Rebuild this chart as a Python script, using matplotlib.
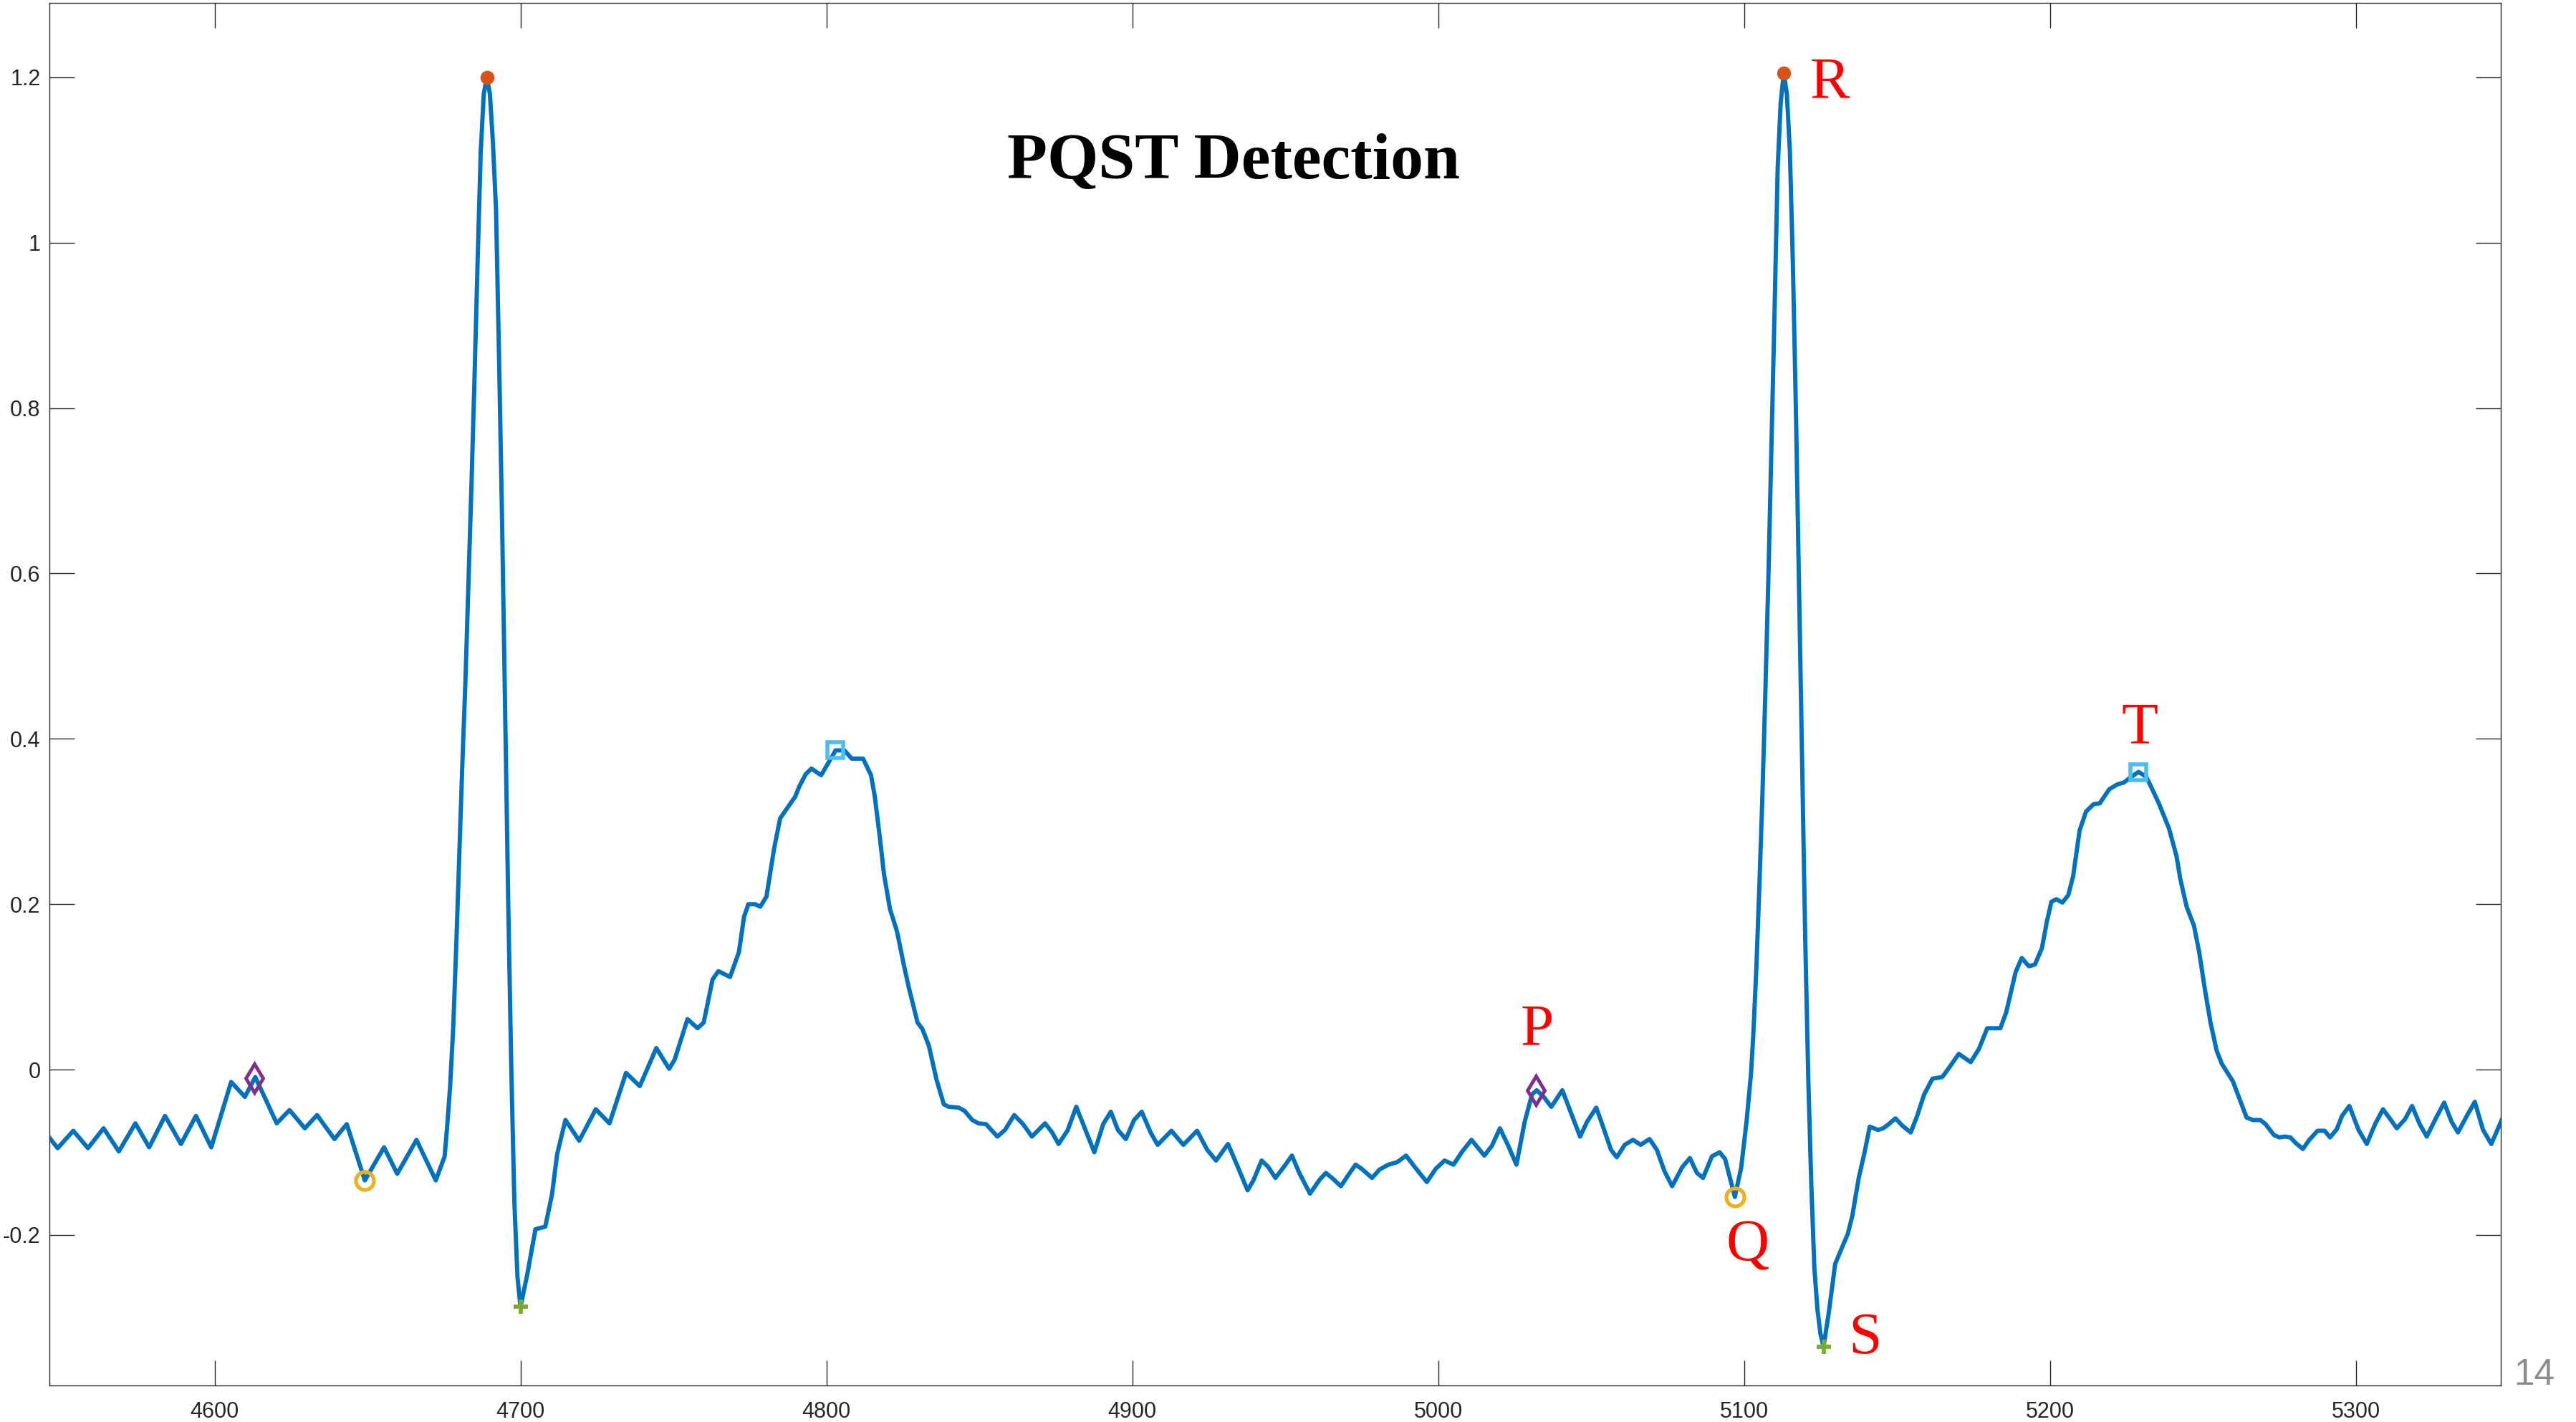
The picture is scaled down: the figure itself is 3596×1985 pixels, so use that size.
import matplotlib

matplotlib.use("Agg")
import matplotlib.pyplot as plt

# ECG trace (sample index, amplitude)
t = [
    4545.7, 4548.7, 4553.8, 4558.6, 4563.7, 4568.7, 4574.1, 4578.6, 4583.8, 4589.0,
    4593.9, 4598.9, 4605.4, 4609.9, 4613.3, 4620.3, 4624.5, 4629.5, 4633.5, 4636.8,
    4639.2, 4643.2, 4649.1, 4655.4, 4659.7, 4666.0, 4672.3, 4675.2,
    4676, 4677, 4678, 4679, 4680, 4681, 4682, 4683, 4684, 4685, 4686, 4687, 4688,
    4689, 4690, 4691, 4692, 4693, 4694, 4695, 4696, 4697, 4698, 4699, 4700,
    4702.2, 4704.9, 4708.1, 4710.3, 4712.0, 4714.7, 4719.2, 4724.6, 4729.1, 4734.5,
    4739.0, 4744.4, 4748.6, 4750.4, 4754.6, 4757.9, 4759.9, 4762.8, 4764.7, 4768.5,
    4771.4, 4773.1, 4774.5, 4776.7, 4778.4, 4780.4, 4782.9, 4784.9, 4789.8, 4791.1,
    4793.2, 4795.1, 4798.3, 4803.0, 4805.9, 4808.3, 4812.0, 4814.6, 4815.8, 4817.5,
    4818.8, 4820.8, 4823.1, 4825.3, 4826.9, 4829.8, 4831.4, 4833.5, 4836.0, 4838.4,
    4840.0, 4843.3, 4845.2, 4847.7, 4849.7, 4852.2, 4855.9, 4858.4, 4861.4, 4864.3,
    4867.2, 4871.5, 4873.8, 4875.9, 4878.8, 4881.7, 4884.7, 4887.6, 4890.5, 4893.0,
    4895.3, 4897.9, 4900.6, 4903.1, 4906.0, 4908.3, 4912.8, 4916.7, 4921.2, 4924.5,
    4927.4, 4931.3, 4934.2, 4937.7, 4939.6, 4942.3, 4944.5, 4946.8, 4949.5, 4952.2,
    4954.6, 4958.1, 4961.3, 4963.3, 4965.3, 4968.2, 4971.1, 4973.0, 4975.0, 4978.4,
    4980.8, 4983.7, 4986.6, 4989.5, 4992.4, 4996.3, 4999.2, 5002.1, 5005.0, 5007.9,
    5010.9, 5015.1, 5017.6, 5020.2, 5022.9, 5025.6, 5028.3, 5030.7, 5032.2, 5034.5,
    5037.0, 5040.6, 5043.5, 5046.4, 5048.7, 5051.7, 5054.0, 5056.5, 5058.4, 5061.0,
    5063.7, 5066.2, 5069.1, 5071.5, 5074.0, 5076.5, 5079.8, 5082.3, 5084.6, 5086.6,
    5089.5, 5092.0, 5093.8, 5095.4, 5097.0, 5099.1, 5100.9, 5102.3,
    5103, 5104, 5105, 5106, 5107, 5108, 5109, 5110, 5111, 5112, 5113, 5114, 5115,
    5116, 5117, 5118, 5119, 5120, 5121, 5122, 5123, 5124, 5125, 5126,
    5127.7, 5129.8, 5131.6, 5133.9, 5135.4, 5137.5, 5139.3, 5141.1, 5143.8, 5145.5,
    5147.3, 5149.5, 5151.8, 5154.5, 5156.6, 5158.9, 5161.6, 5164.8, 5167.0, 5170.2,
    5174.1, 5176.8, 5179.5, 5183.8, 5185.7, 5188.8, 5190.8, 5193.1, 5195.1, 5197.4,
    5199.0, 5200.5, 5202.1, 5204.1, 5206.0, 5207.6, 5209.7, 5211.8, 5214.3, 5216.3,
    5219.4, 5222.1, 5224.1, 5226.6, 5229.0, 5231.5, 5233.6, 5235.6, 5238.9, 5241.4,
    5242.6, 5244.7, 5247.1, 5248.8, 5250.8, 5252.5, 5254.5, 5256.2, 5259.8, 5264.3,
    5266.4, 5268.8, 5270.5, 5273.2, 5275.0, 5276.8, 5278.6, 5280.4, 5282.7, 5284.8,
    5287.5, 5289.8, 5291.6, 5293.8, 5295.5, 5297.9, 5300.9, 5303.6, 5306.3, 5308.9,
    5311.3, 5313.4, 5316.1, 5318.4, 5320.9, 5323.2, 5326.3, 5328.9, 5331.3, 5333.4,
    5336.3, 5338.9, 5341.6, 5344.3, 5346.4, 5347.7,
]
ecg = [
    -0.081, -0.095, -0.074, -0.095, -0.071, -0.099, -0.065, -0.094, -0.056, -0.090,
    -0.056, -0.094, -0.015, -0.033, -0.009, -0.065, -0.049, -0.071, -0.055, -0.072,
    -0.084, -0.066, -0.134, -0.094, -0.126, -0.085, -0.134, -0.105,
    -0.07, -0.02, 0.05, 0.15, 0.26, 0.37, 0.47, 0.59, 0.71, 0.84, 0.98, 1.11, 1.18,
    1.20, 1.18, 1.12, 1.04, 0.86, 0.66, 0.43, 0.20, 0.0, -0.16, -0.25, -0.287,
    -0.248, -0.193, -0.190, -0.151, -0.102, -0.061, -0.086, -0.048, -0.065, -0.004,
    -0.020, 0.026, 0.001, 0.012, 0.061, 0.050, 0.057, 0.109, 0.119, 0.112,
    0.142, 0.185, 0.200, 0.200, 0.197, 0.209, 0.267, 0.304, 0.330, 0.342,
    0.357, 0.364, 0.356, 0.386, 0.386, 0.376, 0.376, 0.356, 0.331, 0.280,
    0.237, 0.194, 0.167, 0.127, 0.100, 0.057, 0.049, 0.029, -0.012, -0.042,
    -0.045, -0.046, -0.050, -0.061, -0.065, -0.066, -0.081, -0.073, -0.055, -0.066,
    -0.081, -0.065, -0.076, -0.090, -0.074, -0.045, -0.073, -0.100, -0.066, -0.051,
    -0.073, -0.084, -0.061, -0.051, -0.076, -0.091, -0.074, -0.091, -0.074, -0.097,
    -0.110, -0.090, -0.115, -0.146, -0.134, -0.110, -0.118, -0.131, -0.118, -0.104,
    -0.125, -0.150, -0.133, -0.125, -0.131, -0.141, -0.125, -0.115, -0.120, -0.131,
    -0.121, -0.115, -0.112, -0.104, -0.118, -0.136, -0.120, -0.110, -0.115, -0.099,
    -0.085, -0.104, -0.092, -0.071, -0.092, -0.115, -0.063, -0.030, -0.025, -0.033,
    -0.045, -0.025, -0.053, -0.081, -0.063, -0.046, -0.070, -0.097, -0.106, -0.091,
    -0.085, -0.091, -0.084, -0.097, -0.123, -0.141, -0.118, -0.107, -0.125, -0.131,
    -0.105, -0.100, -0.108, -0.131, -0.154, -0.118, -0.060, -0.004,
    0.04, 0.12, 0.22, 0.33, 0.46, 0.60, 0.76, 0.92, 1.09, 1.17, 1.205, 1.18, 1.11,
    0.97, 0.79, 0.58, 0.37, 0.16, -0.01, -0.14, -0.24, -0.29, -0.32, -0.335,
    -0.294, -0.235, -0.219, -0.199, -0.177, -0.131, -0.102, -0.069, -0.073, -0.071,
    -0.066, -0.059, -0.068, -0.076, -0.056, -0.030, -0.011, -0.009, 0.002, 0.019,
    0.009, 0.025, 0.050, 0.050, 0.069, 0.118, 0.135, 0.125, 0.127, 0.147,
    0.179, 0.203, 0.206, 0.202, 0.211, 0.234, 0.289, 0.312, 0.321, 0.322,
    0.339, 0.345, 0.347, 0.354, 0.360, 0.354, 0.338, 0.322, 0.292, 0.258,
    0.231, 0.197, 0.174, 0.142, 0.094, 0.057, 0.023, 0.007, -0.014, -0.058,
    -0.061, -0.061, -0.066, -0.079, -0.082, -0.081, -0.082, -0.089, -0.096, -0.085,
    -0.074, -0.074, -0.082, -0.072, -0.056, -0.044, -0.073, -0.090, -0.066, -0.048,
    -0.060, -0.071, -0.060, -0.044, -0.066, -0.081, -0.058, -0.040, -0.063, -0.076,
    -0.056, -0.039, -0.073, -0.090, -0.072, -0.061,
]

# detected points
p_x, p_y = [4613, 5032], [-0.010, -0.025]
q_x, q_y = [4649, 5097], [-0.134, -0.154]
r_x, r_y = [4689, 5113], [1.200, 1.205]
s_x, s_y = [4700, 5126], [-0.287, -0.335]
t_x, t_y = [4803, 5229], [0.386, 0.360]

# red letters next to the second beat (centre x, baseline y)
wave_labels = ["P", "Q", "R", "S", "T"]
label_x = [5032.3, 5101.2, 5128.1, 5139.5, 5229.3]
label_y = [0.030, -0.231, 1.175, -0.343, 0.395]

W, H, DPI = 3596, 1985, 100
fig = plt.figure(figsize=(W / DPI, H / DPI), dpi=DPI)
fig.patch.set_facecolor("white")
ax = fig.add_axes([69 / W, 51 / H, (3491 - 69) / W, (1934 - 4) / H])

ax.plot(t, ecg, color="#0072BD", lw=4.3, zorder=2, solid_joinstyle="round")
ax.plot(r_x, r_y, "o", color="#D95319", ms=13, zorder=3)
ax.plot(q_x, q_y, "o", mfc="none", mec="#EDB120", ms=18, mew=3.8, zorder=3)
ax.plot(s_x, s_y, "+", color="#77AC30", ms=15, mew=4.2, zorder=3)
ax.plot(p_x, p_y, "d", mfc="none", mec="#7E2F8E", ms=20, mew=3.5, zorder=3)
ax.plot(t_x, t_y, "s", mfc="none", mec="#4DBEEE", ms=16, mew=4, zorder=3)

for lab, lx, ly in zip(wave_labels, label_x, label_y):
    ax.text(lx, ly, lab, color="red", fontsize=60, family="Liberation Serif",
            ha="center", va="baseline", zorder=4)

ax.text(4933, 1.078, "PQST Detection", fontsize=66, family="Liberation Serif",
        fontweight="bold", ha="center", va="baseline")

ax.set_xlim(4546, 5347.4)
ax.set_ylim(-0.382, 1.290)
ax.set_xticks([4600, 4700, 4800, 4900, 5000, 5100, 5200, 5300])
ax.set_yticks([-0.2, 0, 0.2, 0.4, 0.6, 0.8, 1, 1.2])
ax.set_yticklabels(["-0.2", "0", "0.2", "0.4", "0.6", "0.8", "1", "1.2"])

for sp in ax.spines.values():
    sp.set_color("#262626")
    sp.set_linewidth(1.0)
ax.tick_params(direction="in", length=25, width=1.0, color="#262626",
               top=True, right=True, labelsize=22, labelcolor="#262626")
ax.tick_params(axis="x", pad=16)
ax.tick_params(axis="y", pad=9)
for lbl in ax.get_xticklabels() + ax.get_yticklabels():
    lbl.set_family("Liberation Sans")

fig.text(3509 / W, (H - 1933) / H, "14", color="#8c8c8c", fontsize=37,
         family="Liberation Sans", ha="left", va="baseline")

fig.savefig("out.png", dpi=DPI, facecolor="white")
